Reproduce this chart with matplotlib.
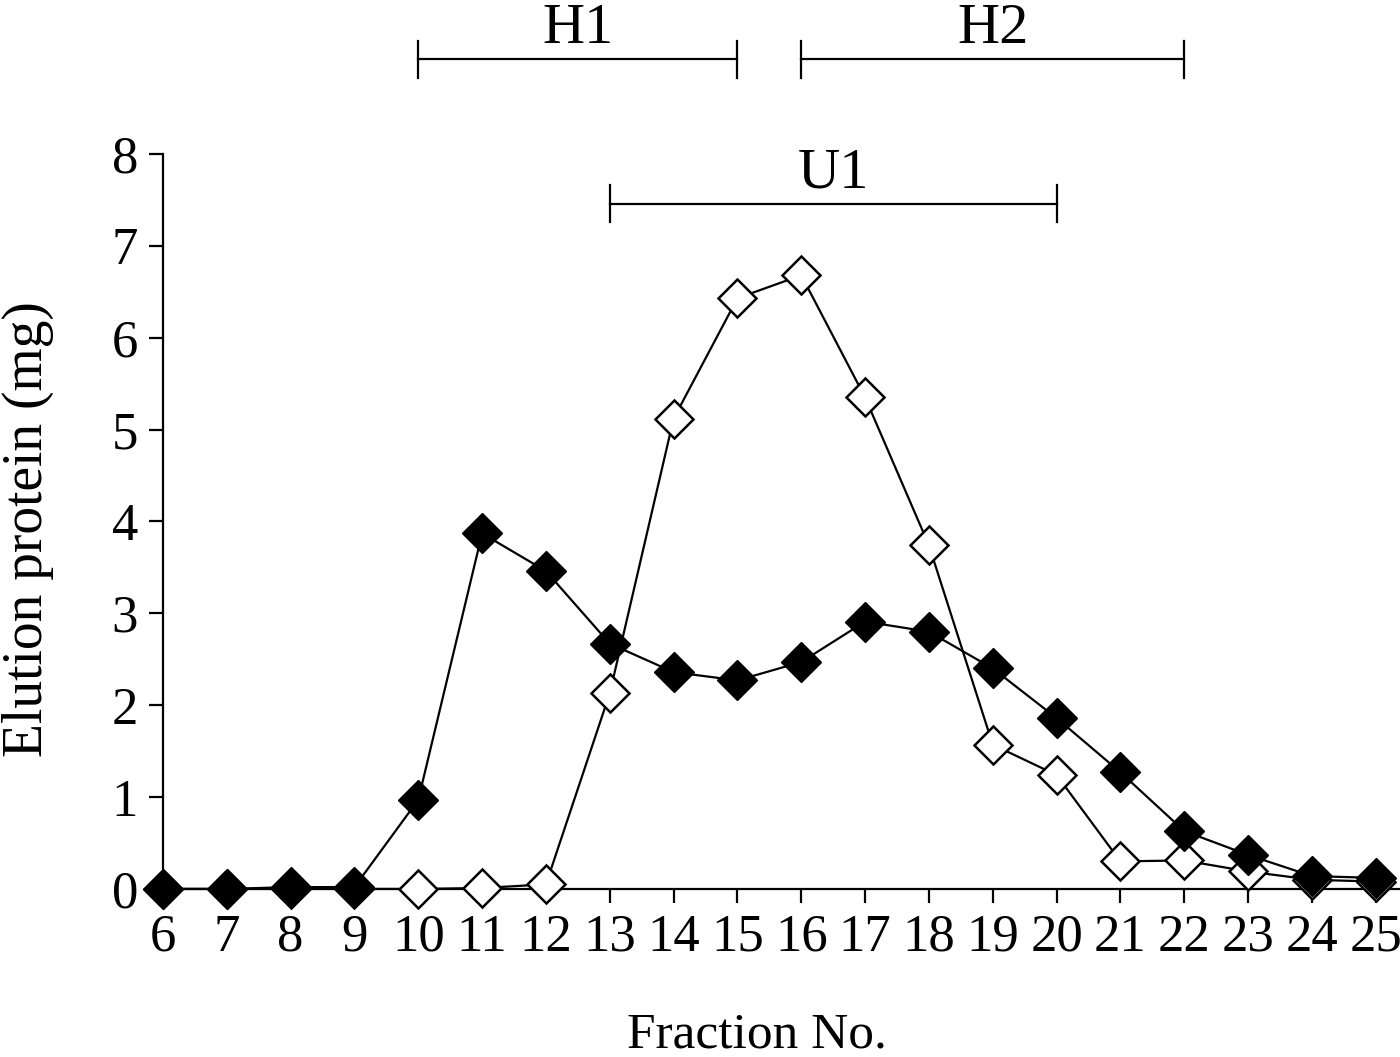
import numpy as np
import matplotlib
matplotlib.use('Agg')
import matplotlib.pyplot as plt

plt.rcParams['font.family'] = ['Liberation Serif', 'DejaVu Serif']

# fraction numbers and eluted protein (mg)
fractions = list(range(6, 26))
open_mg = [0.0, 0.0, 0.0, 0.0, 0.0, 0.01, 0.05, 2.13, 5.12, 6.43,
           6.68, 5.35, 3.74, 1.57, 1.24, 0.30, 0.31, 0.19, 0.10, 0.08]
filled_mg = [0.0, 0.0, 0.02, 0.02, 0.97, 3.87, 3.46, 2.67, 2.36, 2.27,
             2.47, 2.91, 2.80, 2.40, 1.86, 1.27, 0.63, 0.37, 0.14, 0.12]

# pooled ranges (label, first fraction, last fraction, level)
pool_labels = ['H1', 'H2', 'U1']
pool_start = [10, 16, 13]
pool_end = [15, 22, 20]
pool_level = [9.03, 9.03, 7.46]

fig = plt.figure(figsize=(14, 10.57), dpi=100)
ax = fig.add_axes([0.1164, 0.159, 0.8836, 0.6953])

ax.plot(fractions, open_mg, color='black', lw=1.6, marker='D', ms=19,
        mfc='white', mec='black', mew=1.8, clip_on=False, zorder=3)
ax.plot(fractions, filled_mg, color='black', lw=1.6, marker='D', ms=20,
        mfc='black', mec='black', mew=1.0, clip_on=False, zorder=4)

for lab, a, b, lev in zip(pool_labels, pool_start, pool_end, pool_level):
    ax.plot([a, b], [lev, lev], color='black', lw=1.6, clip_on=False)
    ax.plot([a, a], [lev - 0.2, lev + 0.2], color='black', lw=1.6, clip_on=False)
    ax.plot([b, b], [lev - 0.2, lev + 0.2], color='black', lw=1.6, clip_on=False)
    ax.text((a + b) / 2, lev + 0.18, lab, ha='center', va='baseline', fontsize=42)

ax.set_xlim(6, 25.38)
ax.set_ylim(0, 8)
ax.set_xticks(fractions)
ax.set_yticks(range(0, 9))
ax.spines['top'].set_visible(False)
ax.spines['right'].set_visible(False)
ax.spines['left'].set_linewidth(1.6)
ax.spines['bottom'].set_linewidth(1.6)
ax.tick_params(direction='out', length=10, width=1.6, labelsize=38, pad=8)
ax.set_xlabel('Fraction No.', fontsize=37)
ax.xaxis.set_label_coords(0.48, -0.168)
ax.set_ylabel('Elution protein (mg)', fontsize=40)
ax.yaxis.set_label_coords(-0.088, 0.49)

fig.savefig('out.png', dpi=100)
